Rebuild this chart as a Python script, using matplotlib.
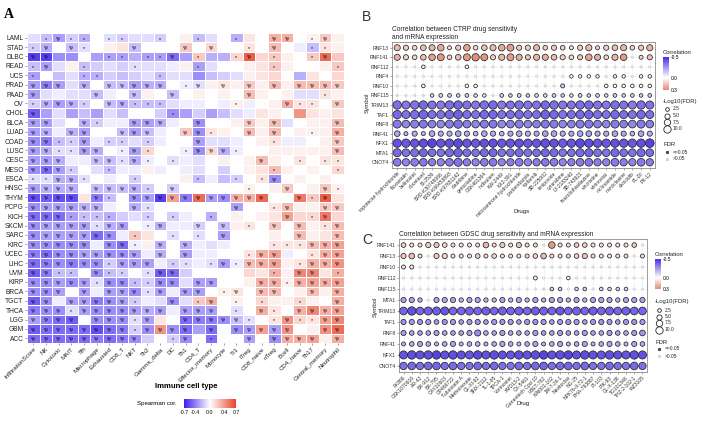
import numpy as np
import matplotlib
matplotlib.use('Agg')
import matplotlib.pyplot as plt
from matplotlib.colors import LinearSegmentedColormap, Normalize
from matplotlib.colorbar import ColorbarBase

plt.rcParams['font.family'] = ['Liberation Sans', 'DejaVu Sans']

# ---------------- data: panel A (Spearman cor., cancer x immune cell) ----------------
cancers = ['LAML', 'STAD', 'DLBC', 'READ', 'UCS', 'PRAD', 'PAAD', 'OV', 'CHOL', 'BLCA', 'LUAD',
           'COAD', 'LUSC', 'CESC', 'MESO', 'ESCA', 'HNSC', 'THYM', 'PCPG', 'KICH', 'SKCM', 'SARC',
           'KIRC', 'UCEC', 'LIHC', 'UVM', 'KIRP', 'BRCA', 'TGCT', 'THCA', 'LGG', 'GBM', 'ACC']
cell_types = ['InfiltrationScore', 'NK', 'Cytotoxic', 'MAIT', 'Tfh', 'Macrophage', 'Exhausted',
              'CD8_T', 'NKT', 'Th2', 'Gamma_delta', 'DC', 'Th1', 'CD4_T', 'Effector_memory',
              'Monocyte', 'Tr1', 'iTreg', 'CD8_naive', 'nTreg', 'Bcell', 'CD4_naive', 'Th17',
              'Central_memory', 'Neutrophil']

heat_vals = [
    [-0.10, -0.20, -0.30, -0.15, -0.25, 0.00, -0.10, -0.15, -0.10, -0.10, -0.15, 0.00, 0.05, -0.20, -0.10, 0.00, -0.25, 0.10, 0.00, 0.30, 0.30, 0.00, 0.05, 0.20, 0.05],
    [-0.15, -0.25, 0.00, -0.20, -0.10, 0.00, 0.05, 0.10, -0.20, 0.00, 0.00, 0.00, 0.20, 0.00, 0.15, 0.00, 0.00, 0.10, 0.00, 0.25, 0.00, -0.05, -0.20, 0.10, 0.05],
    [-0.60, -0.60, -0.35, -0.35, 0.00, -0.30, -0.30, -0.30, -0.25, -0.30, -0.30, -0.45, -0.30, 0.20, -0.25, -0.25, 0.15, 0.60, 0.15, 0.20, 0.05, 0.00, 0.20, 0.55, 0.20],
    [-0.20, -0.30, -0.10, 0.05, -0.20, -0.15, -0.10, -0.15, -0.10, -0.10, -0.10, -0.05, 0.05, -0.30, -0.10, 0.00, 0.00, 0.05, 0.10, 0.20, 0.05, 0.00, 0.00, 0.05, 0.20],
    [-0.30, 0.00, -0.20, -0.10, -0.25, -0.25, -0.15, -0.20, -0.15, -0.10, -0.20, -0.10, -0.10, -0.35, -0.20, -0.15, -0.10, 0.05, 0.10, 0.15, 0.00, -0.25, 0.10, 0.00, 0.15],
    [-0.30, -0.40, -0.30, -0.10, -0.25, 0.00, -0.20, -0.20, -0.30, -0.25, -0.25, 0.00, -0.05, -0.10, 0.05, 0.10, 0.05, 0.20, 0.05, 0.25, 0.05, 0.25, 0.25, 0.25, 0.20],
    [-0.30, -0.10, -0.05, -0.10, -0.10, -0.20, -0.05, 0.00, -0.20, 0.05, 0.00, -0.20, 0.00, 0.05, 0.00, 0.05, 0.00, 0.25, 0.05, 0.00, 0.05, -0.10, -0.10, 0.10, 0.05],
    [-0.15, -0.25, -0.30, -0.25, -0.15, 0.00, -0.20, -0.25, -0.20, -0.20, -0.20, -0.10, -0.05, -0.05, 0.00, -0.05, 0.05, -0.05, 0.00, 0.05, 0.30, 0.10, 0.10, 0.00, 0.20],
    [-0.50, -0.30, -0.10, -0.30, -0.20, -0.30, -0.10, -0.20, 0.00, 0.00, -0.15, -0.35, -0.30, -0.15, -0.30, -0.20, -0.10, -0.05, 0.10, 0.05, 0.00, 0.40, 0.10, 0.05, 0.10],
    [-0.30, -0.30, -0.10, 0.00, -0.25, -0.15, -0.05, -0.05, -0.30, -0.30, -0.25, -0.05, 0.00, -0.35, 0.00, 0.00, 0.05, 0.20, 0.05, 0.25, -0.10, 0.00, 0.05, 0.05, 0.25],
    [-0.30, -0.25, -0.05, -0.25, -0.30, 0.00, 0.00, -0.20, -0.30, -0.20, -0.05, 0.00, 0.20, -0.35, 0.10, 0.05, 0.00, 0.25, 0.05, 0.25, 0.00, 0.05, 0.05, 0.05, 0.30],
    [-0.35, -0.40, -0.20, -0.15, -0.30, -0.05, -0.15, -0.15, -0.10, -0.15, -0.05, 0.00, 0.00, -0.30, -0.10, -0.10, -0.05, 0.00, 0.05, 0.10, -0.05, -0.05, 0.00, 0.05, 0.20],
    [-0.30, -0.25, -0.10, -0.10, -0.30, -0.25, 0.00, -0.05, -0.30, 0.15, 0.00, 0.00, -0.05, -0.35, 0.15, -0.25, -0.05, 0.00, 0.00, 0.05, 0.05, 0.05, 0.05, 0.05, 0.25],
    [-0.30, -0.30, -0.25, -0.05, -0.05, -0.20, -0.20, -0.10, -0.25, -0.05, 0.00, -0.10, -0.05, -0.10, 0.00, 0.05, 0.00, 0.05, 0.25, 0.05, 0.00, 0.10, 0.00, 0.10, 0.10],
    [-0.35, -0.45, -0.30, -0.15, 0.00, -0.10, -0.20, -0.05, -0.05, 0.05, -0.05, 0.00, -0.05, -0.10, 0.00, -0.15, 0.00, 0.05, 0.10, 0.25, 0.05, 0.00, 0.05, 0.00, 0.15],
    [-0.10, -0.10, -0.25, -0.25, -0.10, 0.00, -0.05, 0.00, -0.15, 0.00, 0.00, 0.00, 0.05, -0.20, -0.05, -0.20, -0.15, 0.00, 0.10, -0.35, 0.00, 0.05, 0.00, 0.05, 0.00],
    [-0.30, -0.25, -0.25, -0.25, 0.00, -0.20, -0.20, -0.20, -0.25, -0.15, 0.00, -0.15, 0.00, 0.00, 0.00, 0.00, 0.00, 0.05, 0.00, 0.05, 0.20, 0.00, 0.05, 0.20, 0.05],
    [-0.55, -0.50, -0.55, -0.55, 0.10, -0.40, -0.20, 0.00, -0.35, -0.30, -0.60, 0.35, -0.40, 0.55, -0.30, -0.35, 0.30, 0.30, 0.55, 0.00, 0.00, 0.50, 0.20, 0.60, 0.10],
    [-0.35, -0.30, -0.30, -0.30, -0.25, -0.25, -0.05, 0.00, -0.25, -0.10, 0.00, 0.00, 0.00, 0.00, 0.00, 0.00, -0.30, 0.00, 0.00, 0.10, 0.25, 0.05, 0.05, 0.20, 0.20],
    [-0.45, -0.45, -0.45, -0.30, -0.20, -0.20, -0.25, -0.15, -0.10, -0.15, 0.00, -0.15, -0.05, 0.00, -0.25, 0.00, 0.05, 0.00, 0.05, 0.10, 0.35, 0.15, 0.15, 0.50, 0.15],
    [-0.35, -0.30, -0.30, -0.30, -0.30, -0.10, -0.25, -0.30, 0.00, -0.05, -0.25, -0.05, -0.05, -0.15, 0.00, -0.20, 0.05, 0.10, 0.00, 0.20, 0.00, 0.25, 0.05, 0.10, 0.25],
    [-0.35, -0.30, -0.30, -0.30, -0.30, -0.45, -0.35, -0.05, 0.20, 0.10, 0.00, -0.10, 0.00, -0.10, 0.00, -0.30, 0.00, 0.00, 0.00, 0.05, 0.00, 0.25, 0.05, 0.10, 0.25],
    [-0.35, -0.35, -0.35, -0.35, -0.35, -0.05, -0.35, -0.45, -0.05, 0.05, -0.25, 0.00, -0.25, -0.05, -0.10, -0.05, 0.00, 0.00, 0.00, 0.10, 0.10, 0.10, 0.25, 0.30, 0.35],
    [-0.40, -0.45, -0.35, -0.35, -0.30, -0.30, -0.35, -0.35, -0.30, -0.05, -0.25, 0.00, -0.30, -0.05, -0.05, 0.00, 0.00, 0.10, 0.30, 0.35, -0.05, 0.00, 0.10, 0.30, 0.35],
    [-0.45, -0.40, -0.35, -0.40, -0.35, -0.35, -0.15, -0.30, -0.30, -0.30, -0.05, -0.15, -0.10, -0.05, -0.10, -0.30, -0.05, 0.25, 0.30, 0.35, 0.05, 0.10, 0.30, 0.30, 0.40],
    [-0.50, -0.40, -0.20, -0.20, 0.00, -0.35, -0.20, -0.15, 0.00, -0.10, -0.50, -0.45, -0.15, 0.00, 0.00, 0.00, 0.00, 0.15, 0.10, 0.30, 0.05, 0.45, 0.45, 0.10, 0.30],
    [-0.35, -0.35, -0.30, -0.35, -0.30, -0.10, -0.35, -0.35, -0.20, -0.15, -0.35, -0.35, -0.10, -0.30, -0.30, 0.00, 0.00, 0.05, 0.30, 0.30, 0.05, 0.30, 0.35, 0.30, 0.35],
    [-0.35, -0.35, -0.30, 0.00, -0.30, -0.05, -0.30, -0.30, -0.35, -0.10, -0.30, -0.05, -0.30, -0.30, 0.00, 0.05, 0.10, 0.00, 0.25, 0.25, 0.00, 0.05, 0.25, 0.05, 0.30],
    [-0.50, -0.35, -0.05, -0.30, -0.30, -0.40, -0.35, -0.30, -0.15, -0.05, -0.10, -0.35, -0.10, 0.20, 0.30, 0.00, 0.05, 0.00, 0.15, 0.05, 0.05, 0.15, 0.05, 0.00, 0.30],
    [-0.40, -0.35, -0.35, -0.10, -0.30, -0.35, -0.35, -0.35, -0.30, -0.25, -0.30, -0.05, -0.30, -0.30, -0.30, 0.00, -0.10, 0.00, 0.30, 0.10, 0.00, 0.30, 0.45, 0.30, 0.35],
    [-0.30, -0.40, -0.45, -0.50, 0.00, -0.35, -0.35, -0.35, -0.10, -0.30, 0.10, 0.00, -0.45, -0.40, -0.40, -0.35, -0.20, -0.10, 0.00, 0.10, 0.40, 0.15, 0.10, 0.35, 0.45],
    [-0.50, -0.45, -0.45, -0.45, -0.45, -0.55, -0.45, -0.40, -0.15, -0.35, 0.40, -0.35, -0.45, -0.30, -0.45, 0.00, -0.35, -0.30, 0.35, -0.30, 0.40, 0.00, 0.05, 0.40, 0.55],
    [-0.45, -0.45, -0.45, -0.45, -0.45, -0.40, -0.45, -0.40, -0.35, -0.15, 0.00, -0.15, -0.35, 0.00, -0.45, 0.00, 0.00, -0.30, 0.00, -0.35, 0.30, 0.30, 0.35, 0.05, 0.30],
]

# '.' = none, '*' = p<0.05, '#' = "*#" (FDR<0.05); groups of five columns
heat_marks = [
    '.*#** .**.. *..*. .*..# #.*#.', '*#.#* ...#. ..#.# ..*.# ..**.', '##... .**.* *#.*. .*#.* ..*#.',
    '*#..* ...*. ...*. ....* ....*', '*...* *.... *.... ..... .....', '###.# .#### #.*#. #.#.# .####',
    '#.... #..#. .#... ..#.. ...*.', '*###* .##** *.... .*... #**.#', '#.... ..... .*... ..... .....',
    '##..# *..## #..#. ..#.# ....#', '##.## ..### ..##* ..#.# ..*.#', '##**# .**.* ...#. ....* ....#',
    '##**# #.*#* ..*## #*... ....#', '###.. ##*#* .*... ...#. .*.**', '###*. .*... ..... ....* ....*',
    '**##* ...*. ...*. .*.*# .....', '####. ####* .#... ..*.. #..#*', '####. #*.## ##### ####. .#*#.',
    '##### #..#* ..... .#..* #..##', '###** **..* .*..* ..... #.*#.', '##### *##.* #..#. #.*.# .#.*#',
    '##### ##.*. .*.*. #.... .#..#', '##### .##*. #.#.. ....* **###', '##### ####. #.#.. ..*## ..*##',
    '##### #*### .**.* #*### .*###', '##**. #**.* ##... ....* .##.*', '##### *##** ##.## ...## *####',
    '###.# .###* #.##. *#.## ..#.#', '##.## ###*. .#.*# .*.*. .*..#', '###*# ##### #.### .*.#* .####',
    '####. ###*# ..### ##*.* #**##', '##### ###*# ###.# .#### #..##', '##### ####. .*#.* ..#.# ###.#',
]

# ---------------- data: panel B (CTRP) ----------------
ctrp_genes = ['RNF13', 'RNF141', 'RNF112', 'RNF4', 'RNF10', 'RNF115', 'TRIM13', 'TAF1', 'RNF8',
              'RNF41', 'NFX1', 'MTA1', 'CNOT4']
ctrp_drugs = ['topotecan hydrochloride', 'fluvastatin', 'belinostat', 'docetaxel', 'BI-2536',
              'BRD-K30748066', 'BRD-K66453893', 'BRD-K97651142', 'cladribine', 'gemcitabine',
              'GSK461364', 'indisulam', 'KW-2449', 'KX2-391', 'mitoxantrone hydrochloride',
              'parbendazole', 'tipifarnib', 'SB-225002', 'teniposide', 'cytarabine', 'LY-2183240',
              'SB-743921', 'triazolothiadiazine', 'vincristine', 'vorinostat', 'niclosamide',
              'narciclasine', 'alvocidib', 'PL-DI', 'PX-12']
ctrp_corr = [  # x100
    [18, 14, 10, 16, 20, 22, 9, 14, 24, 10, 16, 18, 22, 25, 14, 13, 20, 12, 14, 12, 9, 13, 18, 10, 13, 16, 19, 11, 14, 20],
    [20, 13, 10, 17, 24, 27, 11, 17, 26, 29, 27, 13, 19, 25, 21, 15, 19, 21, 17, 13, 10, 15, 23, 21, 11, 19, 25, 4, 9, 15],
    [2, 1, 2, 3, 1, 2, 1, 2, 4, 1, 2, 1, 2, 1, 2, 1, 2, 1, 1, 2, 1, 2, 1, 1, 2, 1, 2, 1, 2, 1],
    [1, 2, 1, 1, 2, 1, 2, 1, 1, 2, 1, 2, 1, 1, 2, 1, 2, 1, 1, 2, 1, 1, 1, 1, 2, 1, 1, 2, 1, 1],
    [1, 1, 2, 2, 1, 2, 1, 1, 2, 2, 1, 1, 2, 1, 1, 2, 1, 1, 2, -12, 1, 2, 1, 1, 1, 1, 1, 1, 1, 1],
    [-8, -6, -5, -7, -10, -11, -12, -11, -12, -10, -8, -6, -11, -12, -11, -12, -11, -10, -11, -12, -10, -11, -12, -11, -10, -12, -11, -12, -11, -12],
    [-35, -33, -34, -36, -34, -32, -35, -37, -34, -33, -35, -36, -32, -34, -35, -33, -34, -36, -35, -33, -34, -35, -36, -34, -33, -35, -34, -32, -35, -34],
    [-36, -34, -35, -37, -35, -34, -36, -38, -35, -34, -36, -37, -34, -35, -36, -34, -35, -38, -36, -34, -35, -36, -37, -35, -34, -36, -35, -34, -36, -35],
    [-32, -30, -31, -33, -31, -29, -32, -34, -31, -30, -32, -33, -29, -31, -32, -30, -31, -33, -32, -30, -31, -32, -33, -31, -30, -32, -31, -29, -32, -31],
    [-22, -18, -20, -17, -22, -21, -20, -23, -21, -19, -22, -20, -18, -21, -22, -20, -21, -23, -22, -20, -21, -22, -23, -21, -20, -22, -21, -19, -22, -21],
    [-42, -40, -41, -43, -45, -41, -42, -44, -41, -40, -42, -43, -40, -41, -42, -40, -41, -43, -42, -40, -41, -44, -43, -41, -40, -42, -41, -40, -42, -45],
    [-36, -34, -35, -37, -35, -34, -36, -38, -35, -34, -36, -37, -34, -35, -36, -34, -35, -37, -36, -34, -35, -36, -37, -35, -34, -36, -35, -34, -36, -35],
    [-32, -30, -31, -33, -31, -30, -32, -34, -31, -30, -32, -33, -30, -31, -32, -30, -31, -33, -32, -30, -31, -32, -33, -31, -30, -32, -31, -30, -32, -31],
]
ctrp_fdr = [  # -log10(FDR)
    [7, 5, 4, 6, 7, 8, 3, 5, 8, 4, 6, 7, 8, 9, 5, 5, 7, 4, 5, 4, 3, 5, 7, 3, 5, 6, 7, 4, 5, 7],
    [7, 5, 4, 6, 8, 9, 4, 6, 9, 10, 9, 5, 7, 9, 7, 5, 7, 7, 6, 5, 4, 5, 8, 7, 4, 7, 8, 0.8, 3, 5],
    [0.4, 0.3, 0.4, 2.4, 0.3, 0.4, 0.3, 0.4, 2.4, 0.3, 0.4, 0.3, 0.4, 0.3, 0.4, 0.3, 0.4, 0.3, 0.3, 0.4, 0.3, 0.4, 0.3, 0.3, 0.4, 0.3, 0.4, 0.3, 0.4, 0.3],
    [0.8, 0.3, 0.4, 0.3, 0.4, 0.3, 0.4, 0.3, 0.4, 0.3, 0.4, 0.3, 0.4, 0.3, 0.4, 0.3, 0.4, 0.6, 0.3, 0.3, 2.2, 2.2, 2.2, 2.2, 0.4, 2.2, 2.2, 0.3, 2.2, 2.2],
    [0.3, 0.3, 0.4, 2.4, 0.3, 0.4, 0.3, 0.3, 2.4, 2.4, 0.3, 0.3, 0.4, 0.3, 0.3, 0.4, 0.3, 0.3, 0.4, 3.0, 0.3, 0.4, 0.3, 0.3, 2.4, 2.4, 2.4, 2.4, 2.4, 2.4],
    [0.8, 0.6, 0.5, 0.7, 2.4, 2.6, 2.6, 2.4, 2.6, 2.4, 2.4, 0.8, 2.6, 2.4, 2.6, 2.4, 2.6, 2.4, 2.6, 2.4, 2.4, 2.6, 2.4, 2.6, 2.4, 2.6, 2.4, 2.6, 2.4, 2.6],
    [13, 12, 13, 13, 12, 12, 13, 13, 12, 12, 13, 13, 12, 12, 13, 12, 12, 13, 13, 12, 12, 13, 13, 12, 12, 13, 12, 12, 13, 12],
    [13, 12, 13, 14, 12, 12, 13, 14, 12, 12, 13, 13, 12, 12, 13, 12, 12, 14, 13, 12, 12, 13, 13, 12, 12, 13, 12, 12, 13, 12],
    [12, 11, 12, 12, 11, 11, 12, 13, 11, 11, 12, 12, 11, 11, 12, 11, 11, 12, 12, 11, 11, 12, 12, 11, 11, 12, 11, 11, 12, 11],
    [6, 3, 5, 3, 6, 5, 5, 6, 5, 4, 6, 5, 4, 5, 6, 5, 5, 6, 6, 5, 5, 6, 6, 5, 5, 6, 5, 4, 6, 5],
    [13, 13, 13, 13, 14, 13, 13, 14, 13, 13, 13, 13, 13, 13, 13, 13, 13, 14, 13, 13, 13, 14, 13, 13, 13, 13, 13, 13, 13, 14],
    [12, 11, 12, 12, 11, 11, 12, 13, 11, 11, 12, 12, 11, 11, 12, 11, 11, 12, 12, 11, 11, 12, 12, 11, 11, 12, 11, 11, 12, 11],
    [11, 10, 11, 11, 10, 10, 11, 12, 10, 10, 11, 11, 10, 10, 11, 10, 10, 11, 11, 10, 10, 11, 11, 10, 10, 11, 10, 10, 11, 10],
]

# ---------------- data: panel C (GDSC) ----------------
gdsc_genes = ['RNF141', 'RNF13', 'RNF10', 'RNF112', 'RNF115', 'MTA1', 'TRIM13', 'TAF1', 'RNF8',
              'RNF41', 'NFX1', 'CNOT4']
gdsc_drugs = ['FK866', 'GSK1070916', 'AR-42', 'BX-912', 'BX-795', 'CAY10603', 'CP466722',
              'Tubastatin A', 'Methotrexate', 'QL-XI-92', 'SNX-2112', 'TL-1-85', 'TPCA-1',
              'Vorinostat', 'XMD13-2', 'CX-5461', 'Genentech Cpd 10', 'I-BET-762', 'KIN001-102',
              'JW-7-24-1', 'Navitoclax', 'NG-25', 'NPK76-II-72-1', 'PHA-793887', 'PI-103', 'PIK-93',
              'QL-X-138', 'TG101348', 'THZ-2-102-1', 'WZ3105']
gdsc_corr = [  # x100
    [12, 8, 8, 14, 16, 10, 8, 8, 8, 10, 20, 9, 14, 9, 16, 9, 9, 2, 26, 8, 8, 14, 12, 8, 8, 8, 8, 8, 14, 2],
    [14, 18, 8, 4, 14, 12, 9, 9, 9, 12, 9, 12, 9, 9, 9, 9, 12, 18, 9, 9, 10, 12, 16, 9, 9, 9, 9, 10, 3, 10],
    [8, 6, 2, 2, 3, 4, 2, 3, 4, 2, 3, 2, 2, 3, 2, 3, 2, 2, 3, 2, 3, 2, 2, 3, 2, 2, 2, 3, 2, 2],
    [1, 1, 1, 1, 1, 1, 1, 1, 1, 1, 1, 1, 1, 1, 1, 1, -3, 1, 1, 1, 0, 1, 1, 1, 1, 1, 1, 1, 1, 1],
    [-3, -2, -3, -2, -3, -2, -3, -2, -3, -2, -3, -2, -3, -2, -3, -2, -3, -8, -10, -10, -3, -10, -10, -3, -10, -10, -10, -10, -3, -3],
    [-22, -22, -18, -2, -22, -22, -22, -18, -22, -22, -18, -18, -22, -18, -22, -18, -22, -18, -22, -22, -18, -22, -18, -22, -22, -22, -18, -22, -22, -22],
    [-37, -42, -37, -38, -39, -41, -37, -37, -38, -37, -39, -37, -38, -37, -38, -37, -39, -38, -37, -40, -37, -38, -37, -39, -37, -38, -37, -38, -37, -37],
    [-26, -25, -26, -25, -24, -26, -25, -24, -25, -26, -24, -25, -26, -25, -24, -25, -26, -25, -24, -25, -26, -25, -24, -25, -26, -25, -24, -25, -26, -25],
    [-24, -22, -23, -22, -24, -22, -23, -22, -24, -28, -22, -23, -24, -22, -23, -22, -24, -23, -22, -24, -23, -22, -24, -23, -22, -24, -23, -22, -24, -26],
    [-18, -20, -22, -20, -18, -20, -22, -18, -20, -19, -18, -20, -22, -20, -18, -20, -22, -18, -20, -22, -18, -20, -22, -18, -20, -22, -20, -18, -22, -20],
    [-41, -43, -42, -43, -45, -42, -43, -42, -41, -44, -42, -43, -42, -41, -43, -42, -43, -45, -42, -43, -45, -42, -43, -42, -41, -43, -42, -41, -43, -42],
    [-34, -36, -35, -36, -37, -35, -36, -35, -34, -36, -35, -36, -35, -34, -36, -35, -36, -37, -35, -36, -37, -35, -36, -35, -34, -36, -35, -34, -36, -35],
]
gdsc_fdr = [
    [4, 3, 3, 5, 5, 4, 3, 3, 3, 3, 6, 3, 5, 3, 5, 3, 3, 0.5, 8, 3, 3, 4, 4, 3, 3, 3, 3, 3, 4, 0.5],
    [5, 6, 3, 1, 5, 5, 3, 3, 3, 4, 3, 4, 3, 3, 3, 3, 4, 6, 3, 3, 3, 4, 5, 3, 3, 3, 3, 3, 0.8, 3],
    [3, 3, 0.5, 0.5, 0.6, 0.7, 0.5, 0.6, 0.5, 0.6, 0.5, 0.6, 0.5, 0.5, 0.6, 0.5, 0.5, 0.6, 0.5, 0.6, 0.5, 0.6, 0.5, 0.5, 0.6, 0.5, 0.6, 0.5, 0.5, 0.6],
    [0.4, 0.4, 0.4, 0.4, 0.4, 0.4, 0.4, 0.4, 0.4, 0.4, 0.4, 0.4, 0.4, 0.4, 0.4, 0.4, 2.8, 0.4, 0.4, 0.4, 2.4, 0.4, 0.4, 0.4, 0.4, 0.4, 0.4, 0.4, 0.4, 0.4],
    [0.4, 0.4, 0.4, 0.4, 0.4, 0.4, 0.4, 0.4, 0.4, 0.4, 0.4, 0.4, 0.4, 0.4, 0.4, 0.4, 0.4, 1.0, 2.4, 2.4, 0.4, 2.4, 2.4, 0.5, 2.4, 2.4, 2.4, 2.4, 0.5, 0.5],
    [5, 5, 3.5, 0.6, 5, 5, 5, 3.5, 5, 5, 3.5, 3.5, 5, 3.5, 5, 3.5, 5, 3.5, 5, 5, 3.5, 5, 3.5, 5, 5, 5, 3.5, 5, 5, 5],
    [11, 13, 11, 12, 12, 12, 11, 11, 12, 11, 12, 11, 12, 11, 12, 11, 12, 12, 11, 12, 11, 12, 11, 12, 11, 12, 11, 12, 11, 11],
    [5, 5, 5, 5, 4, 5, 5, 4, 5, 5, 4, 5, 5, 5, 4, 5, 5, 5, 4, 5, 5, 5, 4, 5, 5, 5, 4, 5, 5, 5],
    [5, 4, 4, 4, 5, 4, 4, 4, 5, 7, 4, 4, 5, 4, 4, 4, 5, 4, 4, 5, 4, 4, 5, 4, 4, 5, 4, 4, 5, 6],
    [3, 4, 5, 4, 3, 4, 5, 3, 4, 4, 3, 4, 5, 4, 3, 4, 5, 3, 4, 5, 3, 4, 5, 3, 4, 5, 4, 3, 5, 4],
    [12, 13, 12, 13, 13, 12, 13, 12, 12, 13, 12, 13, 12, 12, 13, 12, 13, 13, 12, 13, 13, 12, 13, 12, 12, 13, 12, 12, 13, 12],
    [10, 11, 10, 11, 11, 10, 11, 10, 10, 11, 10, 11, 10, 10, 11, 10, 11, 11, 10, 11, 11, 10, 11, 10, 10, 11, 10, 10, 11, 10],
]
size_breaks = [2.5, 5.0, 7.5, 10.0]

# ---------------- figure ----------------
W, H = 709, 445
fig = plt.figure(figsize=(W / 100, H / 100), dpi=100)


def pax(left, top, right, bottom):
    # axes from pixel box (top-left origin)
    return fig.add_axes([left / W, 1 - bottom / H, (right - left) / W, (bottom - top) / H])


# overlay for free text / legends in pixel coordinates
ov = fig.add_axes([0, 0, 1, 1], zorder=10)
ov.set_xlim(0, W)
ov.set_ylim(H, 0)
ov.axis('off')

# ---- panel A ----
heat = np.array(heat_vals)
marks = [m.replace(' ', '') for m in heat_marks]
nr, nc = heat.shape
cmapA = LinearSegmentedColormap.from_list('spear', ['#3A1EF2', '#FFFFFF', '#E8442A'])
axA = pax(27, 33, 344, 343)
axA.pcolormesh(np.arange(nc + 1) - 0.5, np.arange(nr + 1) - 0.5, heat, cmap=cmapA,
               vmin=-0.7, vmax=0.7, edgecolors='white', linewidth=0.4)
for i in range(nr):
    for j in range(nc):
        m = marks[i][j]
        if m == '.':
            continue
        axA.text(j, i + 0.15, '*' if m == '*' else '*#', ha='center', va='center',
                 fontsize=3.8, color='black')
axA.set_xlim(-0.5, nc - 0.5)
axA.set_ylim(nr - 0.5, -0.5)
axA.set_yticks(range(nr))
axA.set_yticklabels(cancers, fontsize=4.8, color='#222222')
axA.set_xticks(range(nc))
axA.set_xticklabels(cell_types, rotation=45, ha='right', rotation_mode='anchor',
                    fontsize=4.4, color='#222222')
axA.tick_params(length=1.5, width=0.4, pad=1, color='#555555')
for sp in axA.spines.values():
    sp.set_visible(False)

ov.text(186, 387, 'Immune cell type', ha='center', va='center', fontsize=5.6, fontweight='bold')
caxA = pax(184, 399, 236, 408)
cbA = ColorbarBase(caxA, cmap=cmapA, norm=Normalize(-0.7, 0.7), orientation='horizontal',
                   ticks=[-0.7, -0.4, 0.0, 0.4, 0.7])
cbA.outline.set_visible(False)
cbA.set_ticklabels(['-0.7', '-0.4', '0.0', '0.4', '0.7'])
caxA.tick_params(labelsize=3.8, length=0, pad=1.5)
ov.text(137, 404, 'Spearman cor.', ha='left', va='center', fontsize=4.4)
ov.text(4, 14, 'A', fontsize=10, fontweight='bold', family='Liberation Serif', va='center')

# ---- bubble panels ----
cmapB = LinearSegmentedColormap.from_list('cor', [(0, '#4530E0'), (0.625, '#FFFFFF'), (1, '#E08B74')])
normB = Normalize(-0.5, 0.3)


def bubble_size(v):
    return np.maximum(2.8 * np.asarray(v, dtype=float), 2.5)


def bubble_panel(box, genes, drugs, corr, fdr, title, xlab, xlab_xy, sym_xy, mx, my):
    ax = pax(*box)
    c = np.array(corr) / 100.0
    f = np.array(fdr, dtype=float)
    xx, yy = np.meshgrid(np.arange(len(drugs)), np.arange(len(genes)))
    sig = f > -np.log10(0.05)
    ax.scatter(xx[~sig], yy[~sig], s=bubble_size(f[~sig]), c=c[~sig], cmap=cmapB, norm=normB,
               edgecolors='#C8C8C8', linewidths=0.5, zorder=3)
    ax.scatter(xx[sig], yy[sig], s=bubble_size(f[sig]), c=c[sig], cmap=cmapB, norm=normB,
               edgecolors='#262626', linewidths=0.55, zorder=4)
    ax.set_xlim(-mx, len(drugs) - 1 + mx)
    ax.set_ylim(len(genes) - 1 + my, -my)
    ax.set_xticks(range(len(drugs)))
    ax.set_xticklabels(drugs, rotation=45, ha='right', rotation_mode='anchor', fontsize=3.6,
                       color='#333333')
    ax.set_yticks(range(len(genes)))
    ax.set_yticklabels(genes, fontsize=3.7, color='#333333')
    ax.tick_params(length=1.2, width=0.4, pad=1, color='#666666')
    ax.set_axisbelow(True)
    ax.grid(color='#EDEDED', linewidth=0.4)
    for sp in ax.spines.values():
        sp.set_color('#8C8C8C')
        sp.set_linewidth(0.6)
    ax.set_title(title, loc='left', fontsize=4.8, pad=2.5, color='#222222', linespacing=1.1)
    ov.text(xlab_xy[0], xlab_xy[1], xlab, ha='center', va='center', fontsize=4.4, color='#222222')
    ov.text(sym_xy[0], sym_xy[1], 'Symbol', ha='center', va='center', fontsize=4.4,
            rotation=90, color='#222222')
    return ax


def bubble_legend(x0, y_title, cb_top, cb_bot, y_size, y_fdr):
    ov.text(x0, y_title, 'Correlation', fontsize=4.2, va='center', color='#222222')
    cax = pax(x0, cb_top, x0 + 6, cb_bot)
    cb = ColorbarBase(cax, cmap=cmapB, norm=normB, orientation='vertical', ticks=[-0.5, 0.0, 0.3])
    cb.outline.set_visible(False)
    cb.set_ticklabels(['-0.5', '0.0', '0.3'])
    cax.invert_yaxis()
    cax.tick_params(labelsize=3.5, length=0, pad=1.5)
    ov.text(x0, y_size, '-Log10(FDR)', fontsize=4.2, va='center', color='#222222')
    for k, v in enumerate(size_breaks):
        yk = y_size + 8 + 6.5 * k
        ov.scatter([x0 + 4], [yk], s=bubble_size([v]), facecolor='white', edgecolor='#262626',
                   linewidths=0.6, clip_on=False)
        ov.text(x0 + 10, yk, f'{v:.1f}', fontsize=3.5, va='center', color='#222222')
    ov.text(x0, y_fdr, 'FDR', fontsize=4.2, va='center', color='#222222')
    ov.scatter([x0 + 4], [y_fdr + 7], s=3, facecolor='#555555', edgecolor='#262626',
               linewidths=0.5, clip_on=False)
    ov.text(x0 + 10, y_fdr + 7, '<=0.05', fontsize=3.5, va='center', color='#222222')
    ov.scatter([x0 + 4], [y_fdr + 14], s=3, facecolor='#DDDDDD', edgecolor='#C8C8C8',
               linewidths=0.5, clip_on=False)
    ov.text(x0 + 10, y_fdr + 14, '>0.05', fontsize=3.5, va='center', color='#222222')


bubble_panel((392, 42, 655, 168), ctrp_genes, ctrp_drugs, ctrp_corr, ctrp_fdr,
             'Correlation between CTRP drug sensitivity\nand mRNA expression',
             'Drugs', (522, 211), (367, 103), 0.6, 0.6)
bubble_legend(663, 52, 57, 90, 101, 145)
ov.text(362, 17, 'B', fontsize=10, va='center', color='#333333')

bubble_panel((399, 239, 647, 372), gdsc_genes, gdsc_drugs, gdsc_corr, gdsc_fdr,
             'Correlation between GDSC drug sensitivity and mRNA expression',
             'Drug', (523, 403), (375, 307), 0.55, 0.55)
bubble_legend(655, 255, 259, 289, 302, 342)
ov.text(362, 240, 'C', fontsize=10, va='center', color='#333333')

fig.savefig('out.png', dpi=100, facecolor='white')
